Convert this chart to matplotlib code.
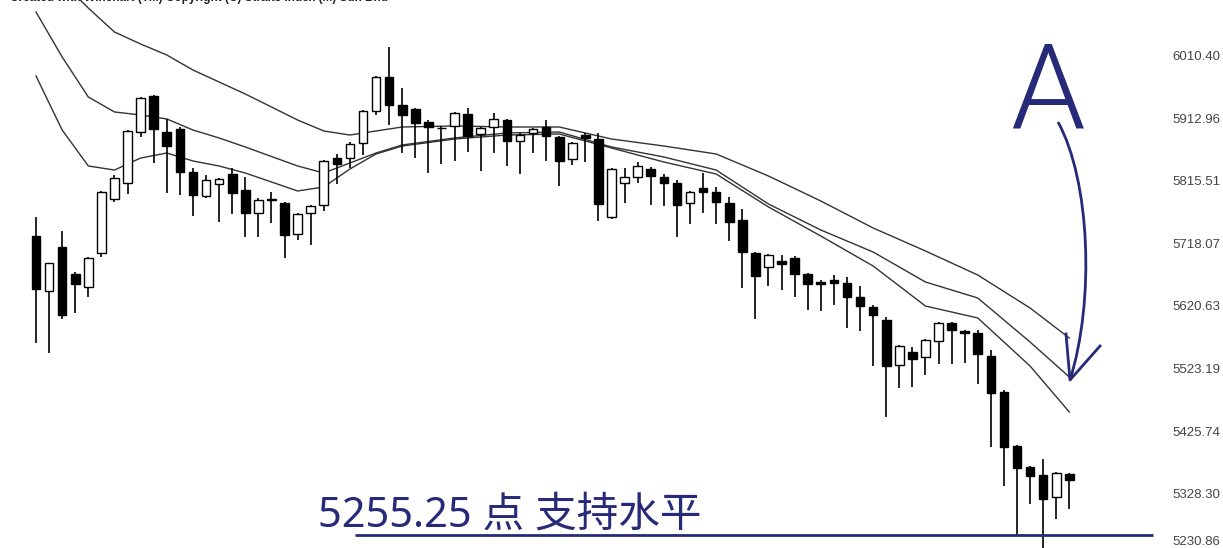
import numpy as np
import matplotlib
matplotlib.use("Agg")
import matplotlib.pyplot as plt
from matplotlib.path import Path
from matplotlib.patches import PathPatch

# daily candles
opens = [5731.7, 5646.1, 5714.6, 5672.6, 5652.3, 5705.3, 5789.3, 5814.2, 5893.6, 5949.7,
         5893.6, 5898.3, 5831.3, 5794.0, 5812.7, 5828.2, 5803.3, 5767.5, 5789.3, 5783.1,
         5734.8, 5767.5, 5780.0, 5853.1, 5853.1, 5876.5, 5926.3, 5979.2, 5935.6, 5929.4,
         5909.2, 5900.6, 5903.0, 5921.6, 5890.5, 5901.4, 5912.3, 5879.6, 5892.1, 5901.4,
         5885.8, 5851.6, 5888.9, 5882.7, 5761.3, 5814.2, 5823.6, 5836.0, 5823.6, 5814.2,
         5783.1, 5806.4, 5800.2, 5783.1, 5756.6, 5705.3, 5683.5, 5692.8, 5697.5, 5672.6,
         5660.1, 5663.2, 5658.6, 5636.8, 5621.2, 5601.0, 5530.9, 5551.1, 5543.4, 5568.3,
         5596.3, 5583.8, 5580.7, 5544.9, 5488.9, 5404.8, 5372.1, 5359.7, 5325.4, 5361.2]
highs = [5761.3, 5689.7, 5739.5, 5675.7, 5699.0, 5801.8, 5826.7, 5896.7, 5948.1, 5951.2,
         5913.9, 5901.4, 5837.6, 5826.7, 5822.0, 5837.6, 5823.6, 5790.9, 5800.2, 5784.6,
         5767.5, 5780.0, 5850.0, 5859.4, 5878.0, 5927.9, 5980.8, 6025.9, 5962.1, 5931.0,
         5912.3, 5903.0, 5924.7, 5931.0, 5901.4, 5923.2, 5913.9, 5892.1, 5899.8, 5912.3,
         5887.4, 5878.0, 5892.1, 5892.1, 5837.6, 5837.6, 5846.9, 5839.1, 5828.2, 5818.9,
         5801.8, 5829.8, 5808.0, 5792.4, 5773.7, 5706.8, 5703.7, 5702.1, 5700.6, 5674.1,
         5663.2, 5671.0, 5667.9, 5653.9, 5624.3, 5605.6, 5562.0, 5558.9, 5571.4, 5597.8,
         5597.8, 5585.4, 5585.4, 5554.3, 5492.0, 5406.4, 5373.7, 5384.6, 5364.3, 5362.8]
lows = [5565.2, 5549.6, 5602.5, 5611.9, 5636.8, 5699.0, 5784.6, 5797.1, 5885.8, 5845.4,
        5798.7, 5795.5, 5762.9, 5790.9, 5753.5, 5766.0, 5730.2, 5730.2, 5752.0, 5697.5,
        5725.5, 5717.7, 5770.6, 5812.7, 5837.6, 5857.8, 5920.1, 5904.5, 5860.9, 5853.1,
        5829.8, 5843.8, 5848.5, 5862.5, 5832.9, 5860.9, 5840.7, 5828.2, 5860.9, 5848.5,
        5809.6, 5842.2, 5846.9, 5755.1, 5758.2, 5783.1, 5814.2, 5780.0, 5778.4, 5730.2,
        5750.4, 5767.5, 5750.4, 5723.9, 5650.8, 5602.5, 5653.9, 5647.7, 5636.8, 5616.5,
        5615.0, 5624.3, 5588.5, 5583.8, 5529.3, 5450.0, 5495.1, 5496.7, 5515.3, 5532.5,
        5532.5, 5534.0, 5501.3, 5403.3, 5342.5, 5266.3, 5314.5, 5235.1, 5291.2, 5306.7]
closes = [5649.2, 5689.7, 5608.7, 5657.0, 5697.5, 5800.2, 5822.0, 5895.2, 5946.5, 5898.3,
          5871.8, 5831.3, 5795.5, 5818.9, 5820.5, 5798.7, 5767.5, 5787.8, 5787.8, 5733.3,
          5766.0, 5778.4, 5848.5, 5843.8, 5874.9, 5926.3, 5979.2, 5935.6, 5920.1, 5907.6,
          5901.4, 5899.8, 5923.2, 5887.4, 5899.8, 5913.9, 5879.6, 5888.9, 5898.3, 5887.4,
          5848.5, 5876.5, 5884.3, 5781.5, 5836.0, 5823.6, 5840.7, 5825.1, 5814.2, 5780.0,
          5800.2, 5800.2, 5784.6, 5753.5, 5706.8, 5669.5, 5702.1, 5688.1, 5672.6, 5657.0,
          5657.0, 5658.6, 5636.8, 5622.7, 5608.7, 5529.3, 5560.5, 5540.2, 5569.8, 5596.3,
          5585.4, 5580.7, 5548.0, 5487.3, 5403.3, 5370.6, 5358.1, 5322.3, 5362.8, 5351.9]

# the three average lines, sampled at some candles
ma_idx = [0, 2, 4, 6, 8, 10, 12, 14, 16, 20, 22, 24, 26, 28, 32, 36, 40, 44, 48, 52,
          56, 60, 64, 68, 72, 76, 79]
ma_upper = [6161.4, 6127.1, 6086.6, 6049.3, 6030.6, 6013.5, 5990.1, 5971.4, 5952.8, 5912.3,
            5895.2, 5888.9, 5895.2, 5901.4, 5903.0, 5901.4, 5901.4, 5882.7, 5871.8, 5859.4,
            5825.1, 5786.2, 5744.2, 5708.4, 5671.0, 5619.6, 5572.9]
ma_mid = [6080.4, 6010.4, 5948.1, 5924.8, 5920.1, 5913.9, 5896.7, 5884.3, 5870.3, 5840.7,
          5829.8, 5845.4, 5860.9, 5873.4, 5884.3, 5892.1, 5893.6, 5870.3, 5854.7, 5834.4,
          5781.5, 5741.1, 5706.8, 5660.1, 5635.2, 5566.7, 5512.2]
ma_low = [5980.8, 5896.7, 5840.7, 5834.4, 5853.1, 5860.9, 5848.5, 5840.7, 5829.8, 5801.8,
          5808.0, 5836.0, 5859.4, 5871.8, 5882.7, 5888.9, 5890.5, 5868.7, 5846.9, 5828.2,
          5776.9, 5731.7, 5685.0, 5622.7, 5604.1, 5529.3, 5457.7]

price_ticks = [6010.40, 5912.96, 5815.51, 5718.07, 5620.63, 5523.19, 5425.74, 5328.30, 5230.86]
support_drawn = 5266.0
support_label = "5255.25 点 支持水平"

navy = "#262a78"

fig = plt.figure(figsize=(12.23, 5.48), dpi=100)
ax = fig.add_axes([0, 0, 1, 1])
ax.set_xlim(-2.752, 90.75)
ax.set_ylim(5246.0, 6099.1)
ax.axis("off")

x = np.arange(len(opens))
o = np.array(opens)
c = np.array(closes)
ax.vlines(x, lows, highs, color="black", lw=1.2, zorder=2)
body_h = np.maximum(np.abs(c - o), 0.8)
face = ["white" if cc > oo else "black" for oo, cc in zip(o, c)]
ax.bar(x, body_h, bottom=np.minimum(o, c), width=0.66, color=face,
       edgecolor="black", linewidth=1, zorder=3)

for line in (ma_upper, ma_mid, ma_low):
    ax.plot(ma_idx, line, color="#333333", lw=1.0, zorder=1)

ax.hlines(support_drawn, 24.4, 85.4, color=navy, lw=2, zorder=4)

ylo = ax.get_ylim()[0]
for t in price_ticks:
    ax.text(86.85, max(t, ylo + 10), f"{t:.2f}", fontsize=9.5, family="Liberation Sans",
            color="#444444", va="center", ha="left")

# annotation layer in pixel units
ov = fig.add_axes([0, 0, 1, 1])
ov.set_xlim(0, 1223)
ov.set_ylim(548, 0)
ov.axis("off")
ov.patch.set_alpha(0)

ov.text(10, -1.5, "Created with Winchart (TM) Copyright (C) Straits Index (M) Sdn Bhd",
        fontsize=8.5, fontweight="bold", family="Liberation Sans", color="#222222",
        va="center", ha="left")

ov.text(318, 527, support_label, fontsize=30,
        family=["Noto Sans", "Noto Sans CJK SC", "DejaVu Sans"], fontstretch="condensed",
        color=navy, va="baseline", ha="left")
ov.text(1048, 128, "A", fontsize=86, family=["Roboto", "DejaVu Sans"],
        fontweight=300, color=navy, va="baseline", ha="center")

# curved arrow pointing at the average lines
arrow = Path([(1058, 122), (1090, 180), (1095, 300), (1070, 380)],
             [Path.MOVETO, Path.CURVE4, Path.CURVE4, Path.CURVE4])
ov.add_patch(PathPatch(arrow, fill=False, edgecolor=navy, lw=2))
ov.plot([1066, 1070, 1100], [334, 380, 346], color=navy, lw=2)

fig.savefig("out.png", dpi=100)
